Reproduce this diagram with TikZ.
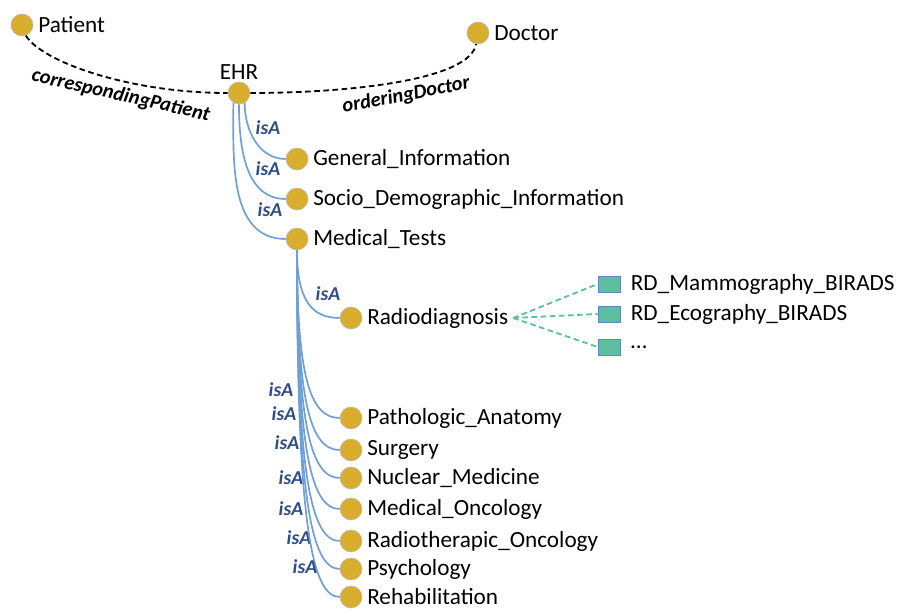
\documentclass[tikz,border=0pt]{standalone}
\usepackage{fontspec}
\setmainfont{Carlito}
\usetikzlibrary{positioning}
\definecolor{conceptgold}{HTML}{D9AE2E}
\definecolor{isablue}{HTML}{6F9FD6}
\definecolor{isatext}{HTML}{2E4E86}
\definecolor{instgreen}{HTML}{5EBF9E}
\definecolor{instborder}{HTML}{5A8AC6}
\begin{document}
\begin{tikzpicture}[x=0.025cm, y=-0.025cm, every label/.style={font=\fontsize{16.5}{19}\selectfont}]
	\tikzstyle{concept} = [circle, fill=conceptgold, draw=gray!55, minimum size=0.55cm, inner sep=0pt, label distance=-1pt]
	\tikzstyle{instance} = [rectangle, fill=instgreen, draw=instborder, minimum width=0.55cm, minimum height=0.4cm, inner sep=0pt]
	\tikzstyle{isa} = [text=isatext, font=\fontsize{14}{16}\selectfont\bfseries\itshape]
	\tikzstyle{isaedge} = [draw=isablue, line width=1.2pt]
	\tikzstyle{role} = [dash pattern=on 4pt off 2.5pt, line width=1.3pt]
	\tikzstyle{rolelabel} = [font=\fontsize{14.5}{16}\selectfont\bfseries\itshape]
	\tikzstyle{instedge} = [draw=instgreen, dash pattern=on 4pt off 2.5pt, line width=1.3pt]

	\useasboundingbox (0,0) rectangle (897,611);

	% Define top level concepts
	\node[concept, label=right:Patient] (Patient) at (22,25) {};
	\node[concept, label=right:Doctor] (Doctor) at (478,33) {};
	\node[concept, label={[label distance=-2pt]above:EHR}] (EHR) at (239,93) {};

	% Object properties between EHR and the actors
	\draw[role] (Patient.-70) .. controls (42,62) and (130,93) .. node[pos=0.62, sloped, below, rolelabel] {correspondingPatient} (EHR.west);
	\draw[role] (EHR.east) .. controls (350,93) and (470,80) .. node[pos=0.52, sloped, below, rolelabel] {orderingDoctor} (Doctor.-100);

	% Direct subclasses of EHR
	\node[concept, label=right:General\_Information] (GI) at (297,159) {};
	\node[concept, label=right:Socio\_Demographic\_Information] (SD) at (297,199) {};
	\node[concept, label=right:Medical\_Tests] (MT) at (297,239) {};

	\draw[isaedge] (EHR.-60) to[out=-90, in=180] (GI.west);
	\draw[isaedge] (EHR.-90) to[out=-90, in=180] (SD.west);
	\draw[isaedge] (EHR.-120) to[out=-90, in=180] (MT.west);
	\node[isa] (isaGI) at (268,128) {isA};
	\node[isa] (isaSD) at (268,169) {isA};
	\node[isa] (isaMT) at (270,210) {isA};

	% Radiodiagnosis and its instances
	\node[concept, label={[name=RDtext]right:Radiodiagnosis}] (RD) at (351,318) {};
	\draw[isaedge] (MT.south) .. controls +(0,50) and +(-28,0) .. (RD.west);
	\node[isa] (isaRD) at (328,294) {isA};

	\node[instance, label={[xshift=4pt]right:RD\_Mammography\_BIRADS}] (RDM) at (609,284) {};
	\node[instance, label={[xshift=4pt]right:RD\_Ecography\_BIRADS}] (RDE) at (609,314) {};
	\node[instance, label={[xshift=4pt]right:\ldots}] (RDO) at (609,347) {};
	\draw[instedge] (RDtext.east) -- (RDM.west);
	\draw[instedge] (RDtext.east) -- (RDE.west);
	\draw[instedge] (RDtext.east) -- (RDO.west);

	% Remaining subclasses of Medical_Tests
	\foreach \name/\y/\txt/\lx/\ly in {PA/418/Pathologic\_Anatomy/281/390,
			SU/450/Surgery/284/414,
			NM/478/Nuclear\_Medicine/287/443,
			MO/509/Medical\_Oncology/291/478,
			RO/541/Radiotherapic\_Oncology/291/509,
			PS/569/Psychology/299/538,
			RE/597/Rehabilitation/305/567}
	{
		\node[concept, label=right:\txt] (\name) at (351,\y) {};
		\draw[isaedge] (MT.south) .. controls +(0,{0.75*(\y-250)}) and +(-30,0) .. (\name.west);
		\node[isa] (isa\name) at (\lx,\ly) {isA};
	}
\end{tikzpicture}
\end{document}
